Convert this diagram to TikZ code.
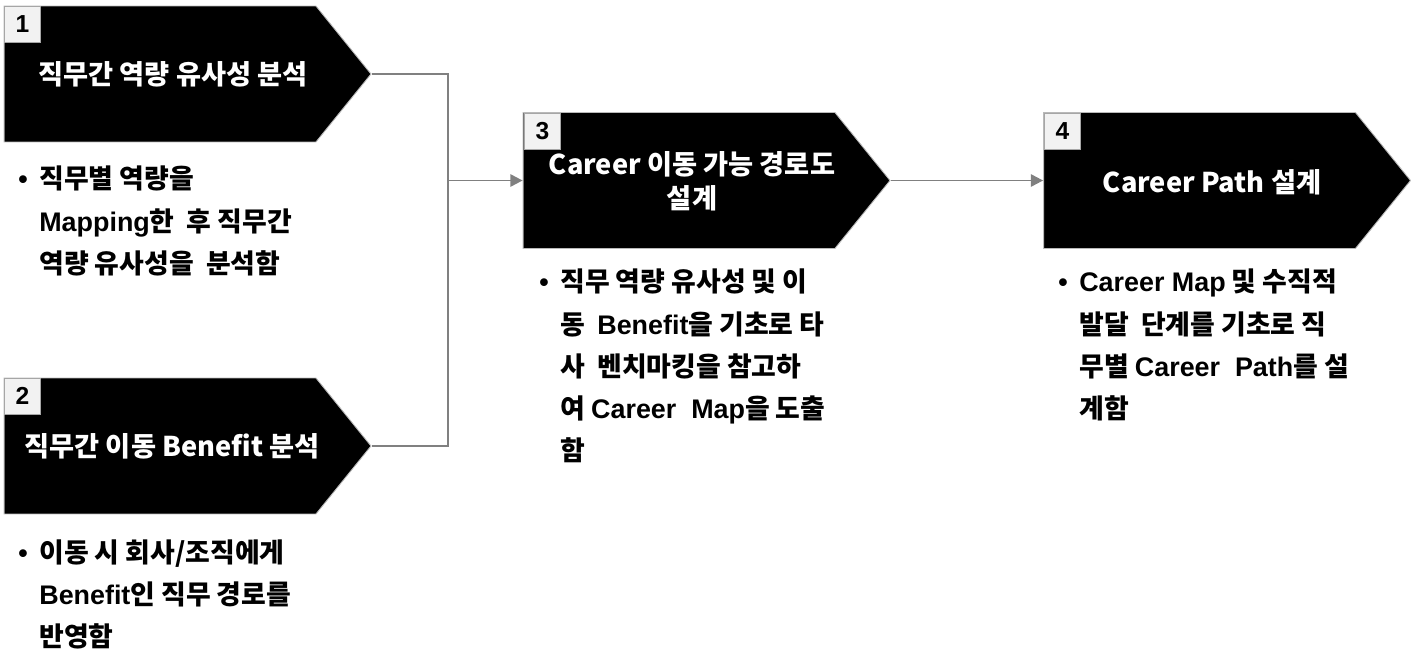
\documentclass[tikz,border=0pt]{standalone}
\usepackage{fontspec}
\setmainfont{Noto Sans CJK KR}
\newfontfamily\latinfont{Liberation Sans}
\usetikzlibrary{shapes.symbols,arrows.meta}

\newcommand{\en}[1]{{\latinfont\bfseries #1}}

\tikzset{
  stage/.style={signal, signal to=east, signal pointer angle=102, fill=black, draw=gray!55, line width=0.5pt,
    minimum width=7.34cm, minimum height=2.72cm, inner sep=0pt},
  stepno/.style={draw=gray!70, fill=gray!10, minimum size=0.72cm, inner sep=0pt, anchor=north west,
    font=\latinfont\bfseries\fontsize{14}{14}\selectfont},
  title/.style={text=white, font=\bfseries\fontsize{15.5}{19.3}\selectfont, align=center},
  notes/.style={anchor=base west, inner sep=0pt, font=\bfseries\fontsize{15.3}{24}\selectfont},
  link/.style={draw=gray, line width=1.1pt},
  tip/.style={-{Triangle[length=7pt,width=7pt]}}
}

\begin{document}
\begin{tikzpicture}[x=0.02cm, y=-0.02cm]
\useasboundingbox (0,0) rectangle (1411,669);

% stages
\node[stage] (s1) at (160,74) {};
\node[stage] (s2) at (160,446) {};
\node[stage] (s3) at (679,180.5) {};
\node[stage] (s4) at (1199.5,180.5) {};

\node[stepno] (n1) at (4,6) {1};
\node[stepno] (n2) at (4,378) {2};
\node[stepno] (n3) at (524,113) {3};
\node[stepno] (n4) at (1044,113) {4};

\node[title] (t1) at (173,74) {직무간 역량 유사성 분석};
\node[title] (t2) at (172,446) {직무간 이동 Benefit 분석};
\node[title] (t3) at (692,181) {Career 이동 가능 경로도\\설계};
\node[title] (t4) at (1212,182) {Career Path 설계};

% descriptions
\node[notes] (d1) at (18,189) {\begin{tabular}[t]{@{}l@{}l@{}}
\makebox[0.42cm][l]{\en{•}} & 직무별 역량을\\
 & \en{Mapping}한~ 후 직무간\\
 & 역량 유사성을~ 분석함
\end{tabular}};
\node[notes] (d2) at (18,562) {\begin{tabular}[t]{@{}l@{}l@{}}
\makebox[0.42cm][l]{\en{•}} & 이동 시 회사/조직에게\\
 & \en{Benefit}인 직무 경로를\\
 & 반영함
\end{tabular}};
\node[notes] (d3) at (539,292) {\begin{tabular}[t]{@{}l@{}l@{}}
\makebox[0.42cm][l]{\en{•}} & 직무 역량 유사성 및 이\\
 & 동~ \en{Benefit}을 기초로 타\\
 & 사~ 벤치마킹을 참고하\\
 & 여 \en{Career~ Map}을 도출\\
 & 함
\end{tabular}};
\node[notes] (d4) at (1058,292) {\begin{tabular}[t]{@{}l@{}l@{}}
\makebox[0.42cm][l]{\en{•}} & \en{Career Map} 및 수직적\\
 & 발달~ 단계를 기초로 직\\
 & 무별 \en{Career~ Path}를 설\\
 & 계함
\end{tabular}};

% connectors
\coordinate (bus) at (448,180.5);
\draw[link] (s1.east) -| (bus) |- (s2.east);
\draw[link,tip] (bus) -- (s3.west);
\draw[link,tip] (s3.east) -- (s4.west);
\end{tikzpicture}
\end{document}
